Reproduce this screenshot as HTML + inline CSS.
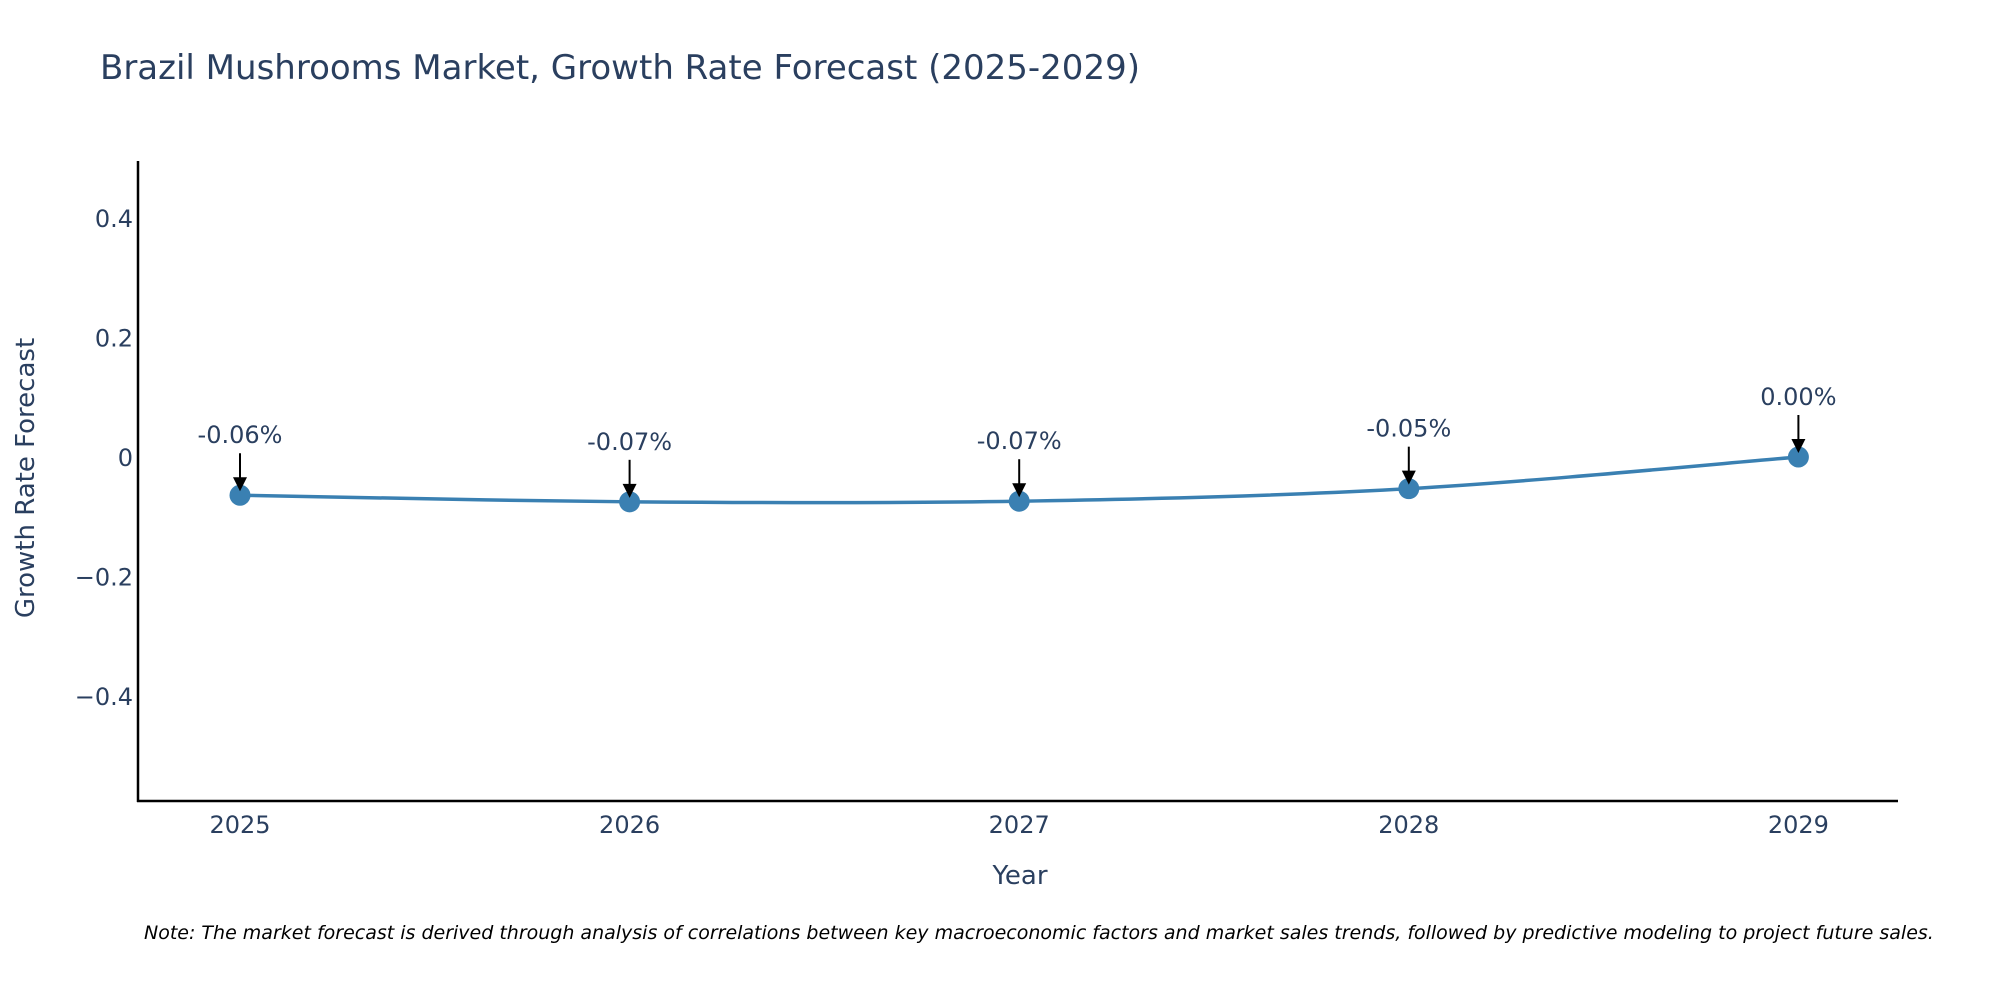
<!DOCTYPE html>
<html><head><meta charset="utf-8"><style>
body{margin:0;background:#fff;}
svg{display:block;font-family:"DejaVu Sans","Liberation Sans",sans-serif;}
</style></head><body>
<svg id="chart" width="2000" height="1000">
<text x="100" y="79" font-size="34" fill="#2a3f5f">Brazil Mushrooms Market, Growth Rate Forecast (2025-2029)</text>
<g id="yticks"></g>
<g id="xticks"></g>
<line x1="138" y1="161" x2="138" y2="802" stroke="#000" stroke-width="2.5"/>
<line x1="137" y1="801" x2="1898" y2="801" stroke="#000" stroke-width="2.5"/>
<path id="line" fill="none" stroke="#3a80b2" stroke-width="3.5"/>
<g id="points"></g>
<g id="annos"></g>
<text x="1020" y="884" font-size="26" fill="#2a3f5f" text-anchor="middle">Year</text>
<text transform="translate(34,478) rotate(-90)" font-size="26" fill="#2a3f5f" text-anchor="middle">Growth Rate Forecast</text>
<text x="144" y="939" font-size="19" font-style="italic" fill="#000">Note: The market forecast is derived through analysis of correlations between key macroeconomic factors and market sales trends, followed by predictive modeling to project future sales.</text>
</svg>
<script>
const years=["2025","2026","2027","2028","2029"];
const values=[-0.064,-0.075,-0.074,-0.053,0.0];
const labels=["-0.06%","-0.07%","-0.07%","-0.05%","0.00%"];
const yTicks=[0.4,0.2,0,-0.2,-0.4];
const yTickLabels=["0.4","0.2","0","\u22120.2","\u22120.4"];
const NS="http://www.w3.org/2000/svg";
const X0=240,DX=389.6,Y0=457,YS=597.5;
function xs(i){return X0+i*DX;}
function ys(v){return Y0-v*YS;}
function mk(t,a,p){const e=document.createElementNS(NS,t);for(const k in a)e.setAttribute(k,a[k]);p.appendChild(e);return e;}
const yg=document.getElementById('yticks');
yTicks.forEach((v,i)=>{const t=mk('text',{x:133,y:ys(v)+9,'font-size':24,fill:'#2a3f5f','text-anchor':'end'},yg);t.textContent=yTickLabels[i];

});
const xg=document.getElementById('xticks');
years.forEach((y,i)=>{const t=mk('text',{x:xs(i),y:833,'font-size':24,fill:'#2a3f5f','text-anchor':'middle'},xg);t.textContent=y;

});
const P=values.map((v,i)=>[xs(i),ys(v)]);
let d='M'+P[0][0]+','+P[0][1];
for(let i=0;i<P.length-1;i++){const p0=P[i-1]||P[i],p1=P[i],p2=P[i+1],p3=P[i+2]||P[i+1];const s=6;
d+=' C'+(p1[0]+(p2[0]-p0[0])/s)+','+(p1[1]+(p2[1]-p0[1])/s)+' '+(p2[0]-(p3[0]-p1[0])/s)+','+(p2[1]-(p3[1]-p1[1])/s)+' '+p2[0]+','+p2[1];}
document.getElementById('line').setAttribute('d',d);
const pg=document.getElementById('points'),ag=document.getElementById('annos');
P.forEach((p,i)=>{const c=mk('circle',{cx:p[0],cy:p[1],r:10.5,fill:'#3a80b2'},pg);


const l=mk('line',{x1:p[0],y1:p[1]-42,x2:p[0],y2:p[1]-16,stroke:'#000','stroke-width':2},ag);


const h=mk('polygon',{points:(p[0]-7)+','+(p[1]-18)+' '+(p[0]+7)+','+(p[1]-18)+' '+p[0]+','+(p[1]-4),fill:'#000'},ag);


const t=mk('text',{x:p[0],y:p[1]-52,'font-size':24,fill:'#2a3f5f','text-anchor':'middle'},ag);t.textContent=labels[i];

});
</script>
</body></html>
